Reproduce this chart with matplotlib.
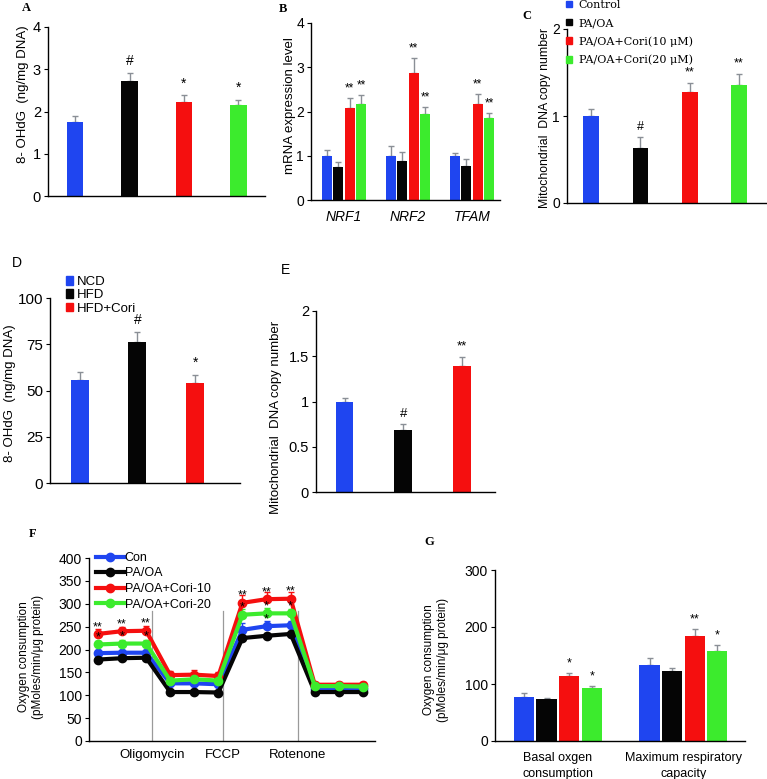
import matplotlib
matplotlib.use("Agg")
import matplotlib.pyplot as plt
import numpy as np
from matplotlib.patches import Patch

plt.rcParams['font.family'] = ['Liberation Sans', 'DejaVu Sans']

# ---------------- data ----------------
BLUE, BLACK, RED, GREEN = '#1f45f0', '#050505', '#f50f0f', '#3ceb2d'
ERRC = '#8a8f96'

# A
a_vals = [1.75, 2.73, 2.22, 2.15]
a_errs = [0.15, 0.17, 0.16, 0.12]
a_sigs = ['', '#', '*', '*']
a_colors = [BLUE, BLACK, RED, GREEN]

# B
b_genes = ['NRF1', 'NRF2', 'TFAM']
b_control = [1.00, 1.00, 1.00]
b_paoa = [0.75, 0.88, 0.77]
b_cori10 = [2.08, 2.88, 2.18]
b_cori20 = [2.18, 1.95, 1.85]
b_err_control = [0.12, 0.22, 0.07]
b_err_paoa = [0.10, 0.20, 0.16]
b_err_cori10 = [0.22, 0.34, 0.21]
b_err_cori20 = [0.20, 0.15, 0.11]
b_sig_cori10 = ['**', '**', '**']
b_sig_cori20 = ['**', '**', '**']

# C
c_labels = ['Control', 'PA/OA', 'PA/OA+Cori(10 μM)', 'PA/OA+Cori(20 μM)']
c_vals = [1.00, 0.63, 1.28, 1.36]
c_errs = [0.08, 0.13, 0.10, 0.12]
c_sigs = ['', '#', '**', '**']

# D
d_labels = ['NCD', 'HFD', 'HFD+Cori']
d_vals = [55.5, 76.0, 54.0]
d_errs = [4.5, 5.5, 4.2]
d_sigs = ['', '#', '*']

# E
e_vals = [1.00, 0.68, 1.39]
e_errs = [0.04, 0.07, 0.10]
e_sigs = ['', '#', '**']

# F
f_time = list(range(12))
f_con = [192, 193, 193, 126, 126, 124, 243, 251, 253, 113, 113, 113]
f_paoa = [178, 181, 182, 107, 107, 106, 225, 230, 234, 107, 107, 107]
f_cori10 = [234, 240, 241, 144, 145, 142, 302, 310, 311, 123, 123, 123]
f_cori20 = [211, 213, 213, 132, 135, 132, 276, 279, 279, 120, 120, 119]
f_err_con = [6, 6, 6, 5, 5, 5, 15, 12, 10, 4, 4, 4]
f_err_paoa = [4, 4, 4, 3, 3, 3, 6, 6, 6, 3, 3, 3]
f_err_cori10 = [11, 10, 10, 8, 10, 8, 18, 15, 14, 5, 5, 5]
f_err_cori20 = [8, 8, 8, 6, 6, 6, 12, 12, 10, 4, 4, 4]
f_sig_cori10 = ['**', '**', '**', '', '', '', '**', '**', '**', '', '', '']
f_sig_cori20 = ['*', '*', '*', '', '', '', '*', '*', '*', '', '', '']
f_sig_con = ['', '', '', '', '', '', '', '*', '', '', '', '']
f_labels = ['Con', 'PA/OA', 'PA/OA+Cori-10', 'PA/OA+Cori-20']
f_inject = ['Oligomycin', 'FCCP', 'Rotenone']
f_inject_pos = [2.25, 5.2, 8.3]

# G
g_cats = ['Basal oxgen\nconsumption', 'Maximum respiratory\ncapacity']
g_con = [77, 134]
g_paoa = [73, 122]
g_cori10 = [114, 185]
g_cori20 = [93, 158]
g_err_con = [8, 11]
g_err_paoa = [2, 6]
g_err_cori10 = [6, 12]
g_err_cori20 = [4, 11]
g_sig_cori10 = ['*', '**']
g_sig_cori20 = ['*', '*']

# ---------------- figure ----------------
W, H = 767, 779
fig = plt.figure(figsize=(W / 100, H / 100), dpi=100)


def add_ax(left, top, right, bottom):
    return fig.add_axes([left / W, 1 - bottom / H, (right - left) / W, (bottom - top) / H])


def style(ax, ylim, yticks, yticklabels=None, fs=10):
    for s in ['top', 'right']:
        ax.spines[s].set_visible(False)
    for s in ['left', 'bottom']:
        ax.spines[s].set_linewidth(1.0)
    ax.set_ylim(*ylim)
    ax.set_yticks(yticks)
    if yticklabels is not None:
        ax.set_yticklabels(yticklabels)
    ax.tick_params(axis='y', direction='out', length=3, width=0.8, labelsize=fs, pad=2)
    ax.tick_params(axis='x', length=0, labelsize=fs)


def bars(ax, x, vals, errs, colors, width, sigs, pad, fs=9):
    ax.bar(x, vals, width, color=colors, zorder=2, linewidth=0)
    ax.errorbar(x, vals, yerr=[np.zeros(len(vals)), errs], fmt='none', ecolor=ERRC,
                elinewidth=1, capsize=2.5, capthick=1, zorder=1)
    for xi, v, e, s in zip(x, vals, errs, sigs):
        if s:
            ax.text(xi, v + e + pad, s, ha='center', va='bottom', fontsize=fs)


def ftext(x, y, s, **kw):
    fig.text(x / W, 1 - y / H, s, **kw)


# ---- Panel A
axA = add_ax(48, 27, 265, 196)
xa = np.arange(4)
bars(axA, xa, a_vals, a_errs, a_colors, 0.30, a_sigs, 0.12, fs=10)
axA.set_xlim(-0.5, 3.49)
axA.set_xticks([])
style(axA, (0, 4), [0, 1, 2, 3, 4], fs=10.5)
ftext(23, 94, '8- OHdG  (ng/mg DNA)', rotation=90, ha='center', va='center', fontsize=9.5)
ftext(26, 8, 'A', fontsize=9, fontweight='bold', family='Liberation Serif', ha='center', va='center')

# ---- Panel B
axB = add_ax(311, 23, 500, 200)
xb = np.arange(3)
step, bw = 0.18, 0.155
series_b = [(b_control, b_err_control, BLUE, None),
            (b_paoa, b_err_paoa, BLACK, None),
            (b_cori10, b_err_cori10, RED, b_sig_cori10),
            (b_cori20, b_err_cori20, GREEN, b_sig_cori20)]
for i, (v, e, c, sg) in enumerate(series_b):
    xx = xb + (i - 1.5) * step
    bars(axB, xx, v, e, [c] * 3, bw, sg if sg else [''] * 3, 0.08, fs=8.5)
axB.set_xlim(-0.516, 2.44)
axB.set_xticks(xb)
axB.set_xticklabels(b_genes, fontstyle='italic')
style(axB, (0, 4), [0, 1, 2, 3, 4], fs=10)
axB.tick_params(axis='x', pad=7)
ftext(290, 106, 'mRNA expression level', rotation=90, ha='center', va='center', fontsize=9.5)
ftext(283, 9, 'B', fontsize=9, fontweight='bold', family='Liberation Serif', ha='center', va='center')

# ---- Panel C
axC = add_ax(567, 29, 767, 203)
xc = np.arange(4)
bars(axC, xc, c_vals, c_errs, a_colors, 0.32, c_sigs, 0.05, fs=9)
axC.set_xlim(-0.49, 3.57)
axC.set_xticks([])
style(axC, (0, 2), [0, 1, 2], fs=10)
ftext(545, 118, 'Mitochondrial  DNA copy number', rotation=90, ha='center', va='center', fontsize=8.8)
ftext(527, 16, 'C', fontsize=9, fontweight='bold', family='Liberation Serif', ha='center', va='center')
hC = [Patch(color=c) for c in a_colors]
fig.legend(hC, c_labels, loc='upper left', bbox_to_anchor=(566 / W, 1 - 0 / H),
           frameon=False, handlelength=0.55, handleheight=0.55, handletextpad=0.6,
           labelspacing=0.72, borderaxespad=0, borderpad=0,
           prop={'family': 'DejaVu Serif', 'size': 8})

# ---- Panel D
axD = add_ax(50, 298, 240, 483)
xd = np.arange(3)
bars(axD, xd, d_vals, d_errs, [BLUE, BLACK, RED], 0.31, d_sigs, 3.0, fs=10)
axD.set_xlim(-0.51, 2.77)
axD.set_xticks([])
style(axD, (0, 100), [0, 25, 50, 75, 100], fs=11)
ftext(10, 393, '8- OHdG  (ng/mg DNA)', rotation=90, ha='center', va='center', fontsize=9.5)
ftext(17, 263, 'D', fontsize=10, ha='center', va='center')
hD = [Patch(color=c) for c in [BLUE, BLACK, RED]]
fig.legend(hD, d_labels, loc='upper left', bbox_to_anchor=(66 / W, 1 - 276 / H),
           frameon=False, handlelength=0.55, handleheight=0.6, handletextpad=0.25,
           labelspacing=0.1, borderaxespad=0, borderpad=0, prop={'size': 9.5})

# ---- Panel E
axE = add_ax(316, 311, 495, 492)
xe = np.arange(3)
bars(axE, xe, e_vals, e_errs, [BLUE, BLACK, RED], 0.30, e_sigs, 0.05, fs=9.5)
axE.set_xlim(-0.485, 2.56)
axE.set_xticks([])
style(axE, (0, 2), [0, 0.5, 1, 1.5, 2], ['0', '0.5', '1', '1.5', '2'], fs=10.5)
ftext(276, 417, 'Mitochondrial  DNA copy number', rotation=90, ha='center', va='center', fontsize=9.5)
ftext(285, 270, 'E', fontsize=10, ha='center', va='center')

# ---- Panel F
axF = add_ax(89, 558, 375, 741)
series_f = [(f_con, f_err_con, BLUE, f_labels[0]),
            (f_paoa, f_err_paoa, BLACK, f_labels[1]),
            (f_cori10, f_err_cori10, RED, f_labels[2]),
            (f_cori20, f_err_cori20, GREEN, f_labels[3])]
handles = []
for v, e, c, lab in series_f:
    axF.errorbar(f_time, v, yerr=[np.zeros(len(v)), e], fmt='none', ecolor=c,
                 elinewidth=1, capsize=2.5, zorder=2)
    ln, = axF.plot(f_time, v, '-o', color=c, lw=3, ms=6, zorder=3, label=lab)
    handles.append(ln)
for sigs, v, e in [(f_sig_cori10, f_cori10, f_err_cori10),
                   (f_sig_cori20, f_cori20, f_err_cori20),
                   (f_sig_con, f_con, f_err_con)]:
    for xi, s, vi, ei in zip(f_time, sigs, v, e):
        if s:
            axF.text(xi, vi + 2, s, ha='center', va='bottom', fontsize=9, zorder=4)
for p in f_inject_pos:
    axF.plot([p, p], [0, 285], color='#9a9a9a', lw=0.9, zorder=1)
axF.set_xlim(-0.37, 11.5)
axF.set_xticks(f_inject_pos)
axF.set_xticklabels(f_inject)
style(axF, (0, 400), list(range(0, 401, 50)), fs=10)
axF.tick_params(axis='x', pad=6, labelsize=9.5)
ftext(31, 657, 'Oxygen consumption\n(pMoles/min/μg protein)', rotation=90, ha='center',
      va='center', fontsize=8.5, linespacing=1.3)
ftext(33, 534, 'F', fontsize=9, fontweight='bold', family='Liberation Serif', ha='center', va='center')
fig.legend(handles, f_labels, loc='upper left', bbox_to_anchor=(96 / W, 1 - 552 / H),
           frameon=False, handlelength=2.2, handletextpad=0.1, labelspacing=0.28,
           borderaxespad=0, borderpad=0, prop={'size': 9})

# ---- Panel G
axG = add_ax(495, 570, 745, 741)
xg = np.arange(2)
gstep, gw = 0.18, 0.16
series_g = [(g_con, g_err_con, BLUE, None),
            (g_paoa, g_err_paoa, BLACK, None),
            (g_cori10, g_err_cori10, RED, g_sig_cori10),
            (g_cori20, g_err_cori20, GREEN, g_sig_cori20)]
for i, (v, e, c, sg) in enumerate(series_g):
    xx = xg + (i - 1.5) * gstep
    bars(axG, xx, v, e, [c] * 2, gw, sg if sg else [''] * 2, 5, fs=9)
axG.set_xlim(-0.5, 1.49)
axG.set_xticks(xg)
axG.set_xticklabels(g_cats, linespacing=1.4)
style(axG, (0, 300), [0, 100, 200, 300], fs=10)
axG.tick_params(axis='x', pad=8, labelsize=9)
ftext(436, 660, 'Oxygen consumption\n(pMoles/min/μg protein)', rotation=90, ha='center',
      va='center', fontsize=8.5, linespacing=1.3)
ftext(429, 542, 'G', fontsize=9, fontweight='bold', family='Liberation Serif', ha='center', va='center')

fig.savefig('out.png', dpi=100)
